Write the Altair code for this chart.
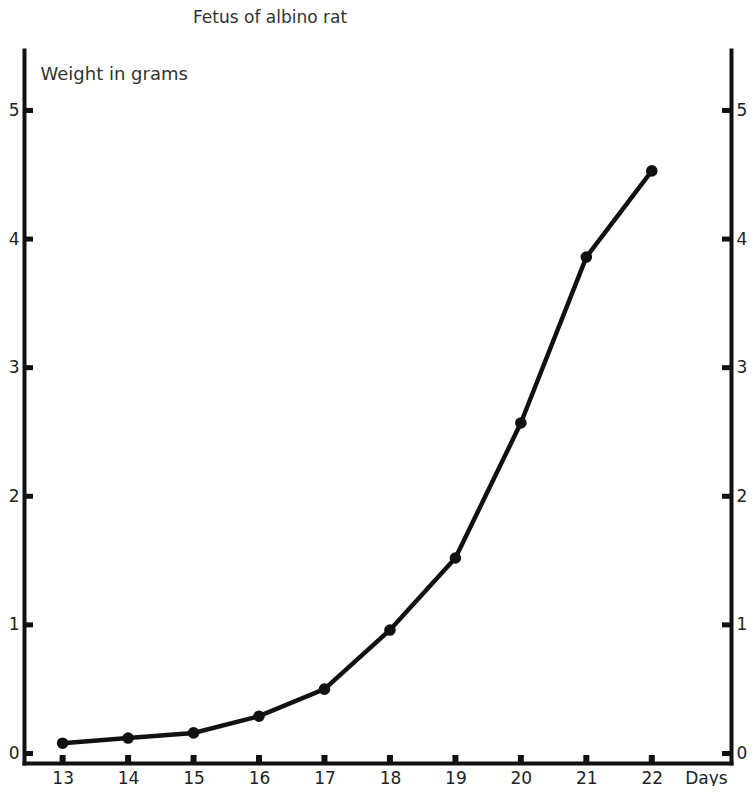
import altair as alt
import pandas as pd

# ---- data ----
days = [13, 14, 15, 16, 17, 18, 19, 20, 21, 22]
weights = [0.08, 0.12, 0.16, 0.29, 0.50, 0.96, 1.52, 2.57, 3.86, 4.53]
y_tick_values = [0, 1, 2, 3, 4, 5]
x_tick_values = [13, 14, 15, 16, 17, 18, 19, 20, 21, 22]
title_text = "Fetus of albino rat"
y_title = "Weight in grams"
x_title = "Days"

# ---- styling / layout ----
X_DOMAIN = [12.41, 23.21]
Y_DOMAIN = [-0.074, 5.47]
W, H = 707, 713
INK = "#111111"
TXT = "#222222"
FONT = "DejaVu Sans"

df = pd.DataFrame({"day": days, "weight": weights})
xt = pd.DataFrame({"day": x_tick_values})
yt = pd.DataFrame({"weight": y_tick_values})

xscale = alt.Scale(domain=X_DOMAIN, nice=False, zero=False)
yscale = alt.Scale(domain=Y_DOMAIN, nice=False, zero=False)

x_axis = alt.Axis(
    values=x_tick_values, format="d", ticks=False, tickSize=0, grid=False,
    domainWidth=4, domainColor=INK, domainCap="square",
    labelFontSize=17, labelPadding=7, labelColor=TXT, labelFont=FONT,
    title=x_title, titleAngle=0, titleX=682, titleY=15,
    titleAlign="center", titleBaseline="middle",
    titleFontSize=17, titleFontWeight="normal", titleFont=FONT, titleColor=TXT,
)
y_left_axis = alt.Axis(
    orient="left", values=y_tick_values, format="d", ticks=False, tickSize=0, grid=False,
    domainWidth=4, domainColor=INK, domainCap="square",
    labelFontSize=17, labelPadding=5, labelColor=TXT, labelFont=FONT,
    title=y_title, titleAngle=0, titleX=16, titleY=29,
    titleAlign="left", titleBaseline="alphabetic",
    titleFontSize=18, titleFontWeight="normal", titleFont=FONT, titleColor="#333333",
)
y_right_axis = alt.Axis(
    orient="right", values=y_tick_values, format="d", ticks=False, tickSize=0, grid=False,
    domainWidth=4, domainColor=INK, domainCap="square",
    labelFontSize=17, labelPadding=5, labelColor=TXT, labelFont=FONT,
    title=None,
)

line = alt.Chart(df).mark_line(color=INK, strokeWidth=4.5).encode(
    x=alt.X("day:Q", scale=xscale, axis=x_axis),
    y=alt.Y("weight:Q", scale=yscale, axis=y_left_axis),
)
points = alt.Chart(df).mark_circle(color=INK, size=135, opacity=1).encode(
    x=alt.X("day:Q"), y=alt.Y("weight:Q"),
)
xticks = alt.Chart(xt).mark_rule(color=INK, strokeWidth=6).encode(
    x=alt.X("day:Q"), y=alt.value(H), y2=alt.value(H - 8),
)
left_ticks = alt.Chart(yt).mark_rule(color=INK, strokeWidth=5).encode(
    y=alt.Y("weight:Q"), x=alt.value(0), x2=alt.value(9),
)
right_ticks = alt.Chart(yt).mark_rule(color=INK, strokeWidth=5).encode(
    y=alt.Y("weight:Q"), x=alt.value(W - 9), x2=alt.value(W),
)
main = alt.layer(line, points, xticks, left_ticks, right_ticks)

right = alt.Chart(yt).mark_rule(opacity=0).encode(
    y=alt.Y("weight:Q", scale=yscale, axis=y_right_axis),
    x=alt.value(0), x2=alt.value(1),
)

chart = (
    alt.layer(main, right)
    .resolve_scale(y="independent")
    .properties(
        width=W, height=H,
        title=alt.TitleParams(
            title_text, anchor="start", frame="group", dx=169, offset=23,
            fontSize=17, fontWeight="normal", font=FONT, color="#333333",
        ),
        padding={"left": 16, "top": 42, "right": 17, "bottom": 23},
        autosize=alt.AutoSizeParams(type="none"),
        background="white",
    )
    .configure_view(stroke=None)
)

chart.save("out.html", embed_options={"renderer": "svg", "actions": False})
